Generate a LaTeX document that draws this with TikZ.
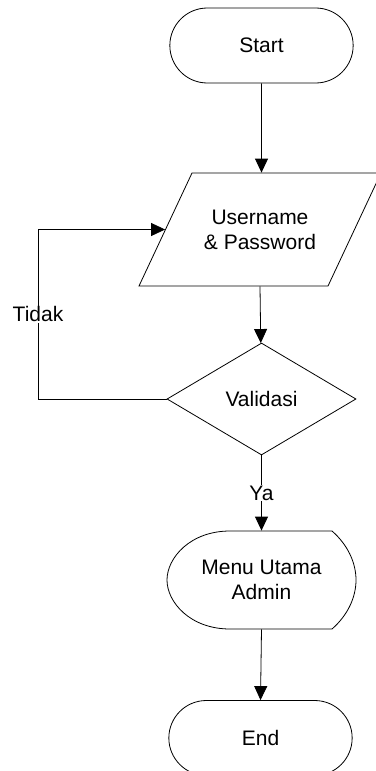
\documentclass[tikz,border=0pt]{standalone}
\usepackage{fontspec}
\setmainfont{Liberation Sans}
\usetikzlibrary{shapes.geometric,shapes.misc,arrows.meta}

\tikzset{
	term/.style={draw, rounded rectangle, minimum width=190pt, minimum height=75pt},
	inbox/.style={minimum width=189pt, minimum height=113pt, align=center},
	decide/.style={draw, diamond, aspect=1.69, minimum width=189pt, minimum height=112pt},
	showbox/.style={minimum width=189pt, minimum height=98pt, align=center},
	flow/.style={-{Triangle[length=14pt,width=13pt]}},
	lbl/.style={fill=white, inner sep=1pt}
}

\begin{document}
\begin{tikzpicture}[x=1pt,y=-1pt,line width=0.8pt,font=\fontsize{21}{25}\selectfont]
	\useasboundingbox (0,0) rectangle (375,771);
	% Shapes
	\path (261.5,45.5) node [term] (start) {Start};
	\path (260,229.5) node [inbox] (user) {Username\\ \& Password};
	\draw (192,173) -- (381,173) -- (328,286) -- (139,286) -- cycle;
	\path (261.5,399) node [decide] (valid) {Validasi};
	\path (261.5,580) node [showbox] (menu) {Menu Utama\\Admin};
	\draw (230,531) -- (332,531) .. controls (348,545) and (356,563) .. (356,580)
		.. controls (356,597) and (348,615) .. (332,629) -- (230,629)
		.. controls (190,629) and (167,602) .. (167,580)
		.. controls (167,558) and (190,531) .. (230,531) -- cycle;
	\path (260.5,738) node [term] (end) {End};
	% Connectors
	\coordinate (back) at (38,399);
	\draw [flow] (start) -- (start |- user.north);
	\draw [flow] (user.south) -- (valid);
	\draw [flow] (valid.west) -- (back) |- node [lbl, pos=0.25] {Tidak} (user.west);
	\draw [flow] (valid.south) -- node [lbl] {Ya} (menu.north);
	\draw [flow] (menu.south) -- (end.north);
\end{tikzpicture}
\end{document}
